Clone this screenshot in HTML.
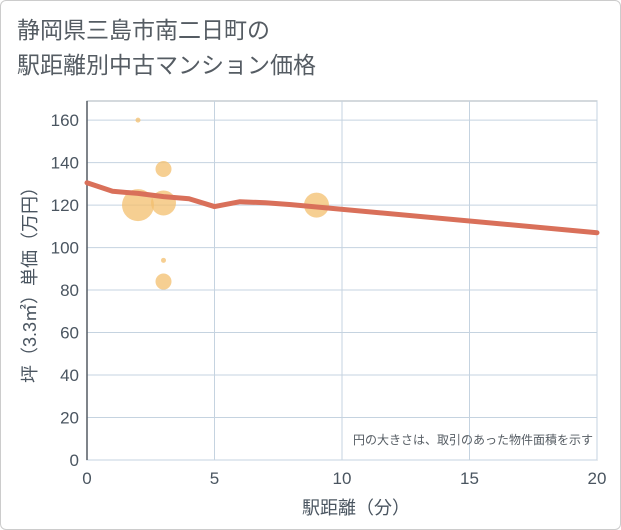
<!DOCTYPE html>
<html><head><meta charset="utf-8">
<style>
html,body{margin:0;padding:0;background:#fff;}
#wrap{position:relative;width:619px;height:528px;border:1px solid #ccc;border-radius:6px;overflow:hidden;font-family:"Liberation Sans","Noto Sans CJK JP",sans-serif;}
#title{position:absolute;left:16px;top:12px;font-size:23px;line-height:35px;color:#555c63;}
svg{position:absolute;left:-1px;top:-1px;}
</style></head>
<body>
<div id="wrap">
<div id="title">静岡県三島市南二日町の<br>駅距離別中古マンション価格</div>
<svg id="chart" width="621" height="530"></svg>
</div>
<script>
const xTicks=[0,5,10,15,20];
const yTicks=[0,20,40,60,80,100,120,140,160];
const lineX=[0,1,2,3,4,5,6,7,8,20];
const lineY=[130.5,126.5,125.5,124,123,119.3,121.6,121.1,120.2,107];
const bubX=[2,3,2,3,3,3,9];
const bubY=[160,137,120,121,94,84,120];
const bubR=[2.5,8,16,12.5,2.5,8,12.5];

const NS="http://www.w3.org/2000/svg";
const svg=document.getElementById('chart');
const L=87,R=597,T=101,B=460,XMAX=20,YMAX=169;
const sx=v=>L+v/XMAX*(R-L);
const sy=v=>B-v/YMAX*(B-T);
function mk(tag,attrs,parent){const e=document.createElementNS(NS,tag);for(const k in attrs)e.setAttribute(k,attrs[k]);(parent||svg).appendChild(e);return e;}

const bg=mk('rect',{x:L,y:T,width:R-L,height:B-T,fill:'#fff',stroke:'#aab3bb','stroke-width':1});



yTicks.forEach(v=>{
  const g=mk('line',{x1:L,x2:R,y1:sy(v),y2:sy(v),stroke:'#c5d3e0','stroke-width':1});
  
  
  const t=mk('text',{x:L-8,y:sy(v)+6,'text-anchor':'end','font-size':17,fill:'#4a5560'});
  t.textContent=v;
  
  
});
xTicks.forEach(v=>{
  const g=mk('line',{x1:sx(v),x2:sx(v),y1:T,y2:B,stroke:'#c5d3e0','stroke-width':1});
  
  
  const t=mk('text',{x:sx(v),y:B+24,'text-anchor':'middle','font-size':17,fill:'#4a5560'});
  t.textContent=v;
  
  
});
const ax=mk('line',{x1:L,x2:L,y1:T,y2:B,stroke:'#555c63','stroke-width':1.5});



bubX.forEach((x,i)=>{
  const c=mk('circle',{cx:sx(x),cy:sy(bubY[i]),r:bubR[i],fill:'#f3bf6e','fill-opacity':0.75});
  
  
});

const pts=lineX.map((x,i)=>sx(x)+','+sy(lineY[i])).join(' ');
const pl=mk('polyline',{points:pts,fill:'none',stroke:'#d9705a','stroke-width':5,'stroke-linejoin':'round','stroke-linecap':'round'});



const note=mk('text',{x:R-4,y:B-16,'text-anchor':'end','font-size':12,fill:'#555c63'});
note.textContent='円の大きさは、取引のあった物件面積を示す';



const xt=mk('text',{x:356,y:514,'text-anchor':'middle','font-size':18,fill:'#4a5560'});
xt.textContent='駅距離（分）';



const yt=mk('text',{x:0,y:0,'text-anchor':'middle','font-size':18,fill:'#4a5560',transform:'translate(36,'+((T+B)/2)+') rotate(-90)'});
yt.textContent='坪（3.3㎡）単価（万円）';


</script>
</body></html>
